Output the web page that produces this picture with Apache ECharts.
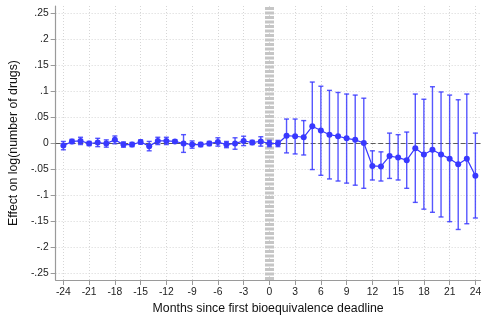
<!DOCTYPE html>
<html><head><meta charset="utf-8">
<script src="https://cdn.jsdelivr.net/npm/echarts@6/dist/echarts.min.js"></script>
<style>html,body{margin:0;padding:0;background:#fff}#c{width:484px;height:320px}</style>
</head><body><div id="c"></div>
<script>
const months = [-24,-23,-22,-21,-20,-19,-18,-17,-16,-15,-14,-13,-12,-11,-10,-9,-8,-7,-6,-5,-4,-3,-2,-1,0,1,2,3,4,5,6,7,8,9,10,11,12,13,14,15,16,17,18,19,20,21,22,23,24];
const effect = [-0.005,0.003,0.004,-0.001,0.001,-0.001,0.006,-0.003,-0.003,0.002,-0.006,0.004,0.004,0.003,-0.001,-0.003,-0.003,-0.001,0.002,-0.003,-0.001,0.004,0.001,0.003,-0.001,-0.001,0.014,0.013,0.011,0.032,0.024,0.016,0.013,0.009,0.006,0.000,-0.044,-0.045,-0.025,-0.028,-0.033,-0.010,-0.022,-0.013,-0.022,-0.030,-0.041,-0.030,-0.063];
const ciLow = [-0.013,-0.001,-0.003,-0.005,-0.007,-0.008,-0.0015,-0.008,-0.007,-0.002,-0.015,-0.003,-0.003,0.000,-0.018,-0.010,-0.007,-0.005,-0.006,-0.009,-0.012,-0.005,-0.003,-0.006,-0.007,-0.007,-0.019,-0.021,-0.023,-0.051,-0.062,-0.069,-0.073,-0.077,-0.081,-0.087,-0.071,-0.073,-0.068,-0.071,-0.087,-0.114,-0.127,-0.133,-0.142,-0.151,-0.166,-0.155,-0.144];
const ciHigh = [0.003,0.007,0.011,0.003,0.009,0.006,0.0135,0.002,0.001,0.006,0.003,0.011,0.011,0.006,0.016,0.004,0.001,0.003,0.010,0.003,0.010,0.013,0.005,0.012,0.005,0.005,0.046,0.046,0.043,0.117,0.109,0.101,0.097,0.094,0.092,0.086,-0.015,-0.017,0.019,0.016,0.021,0.094,0.084,0.108,0.098,0.092,0.083,0.094,0.019];
const xTicks = [-24,-21,-18,-15,-12,-9,-6,-3,0,3,6,9,12,15,18,21,24];
const yTicks = [-0.25,-0.2,-0.15,-0.1,-0.05,0,0.05,0.1,0.15,0.2,0.25];
const xTitle = 'Months since first bioequivalence deadline';
const yTitle = 'Effect on log(number of drugs)';

const blue = '#3838ff';
const font = 'Liberation Sans, Arial, sans-serif';
function yFmt(v){
  if (Math.abs(v) < 1e-9) return '0';
  let s = v.toFixed(2).replace(/0+$/,'');
  return s.replace('0.', '.');
}
const lineData = months.map((m,i)=>[m, effect[i]]);
const ciData = months.map((m,i)=>[m, ciLow[i], ciHigh[i]]);

const chart = echarts.init(document.getElementById('c'), null, {renderer:'canvas'});
chart.setOption({
  animation:false,
  backgroundColor:'#fff',
  grid:{left:46.7, right:0, top:6, bottom:40, containLabel:false},
  xAxis:{
    type:'value', min:-24.9, max:24.6,
    name:xTitle, nameLocation:'middle', nameGap:23,
    nameTextStyle:{fontFamily:font, fontSize:12.3, color:'#111'},
    axisLine:{show:true, onZero:false, lineStyle:{color:'#9a9a9a', width:1.2}},
    axisTick:{show:true, customValues:xTicks, length:5, inside:false, lineStyle:{color:'#9a9a9a'}},
    axisLabel:{customValues:xTicks, margin:7, fontFamily:font, fontSize:10.3, color:'#222'},
    splitLine:{show:true, lineStyle:{color:'#d6d6d6', type:[1,2], width:1}}
  },
  yAxis:{
    type:'value', min:-0.263, max:0.263,
    name:yTitle, nameLocation:'middle', nameGap:28, nameRotate:90,
    nameTextStyle:{fontFamily:font, fontSize:12.3, color:'#111'},
    axisLine:{show:true, onZero:false, lineStyle:{color:'#9a9a9a', width:1.2}},
    axisTick:{show:true, customValues:yTicks, length:5, lineStyle:{color:'#9a9a9a'}},
    axisLabel:{customValues:yTicks, margin:7, fontFamily:font, fontSize:10.3, color:'#222', formatter:yFmt},
    splitLine:{show:true, lineStyle:{color:'#d6d6d6', type:[1,2], width:1}}
  },
  series:[
    {
      type:'line', data:[], silent:true,
      markLine:{symbol:['none','none'], silent:true, label:{show:false}, z:1,
        data:[
          {xAxis:0, lineStyle:{color:'#c6c6c6', width:9, type:[3,1.5]}},
          {yAxis:0, lineStyle:{color:'#5a5a5a', width:1, type:[5,2.5]}}
        ]}
    },
    {
      type:'custom', data:ciData, z:3, silent:true,
      renderItem:function(params, api){
        const x = api.value(0);
        const a = api.coord([x, api.value(1)]);
        const b = api.coord([x, api.value(2)]);
        const w = 2.5;
        const st = {stroke:blue, lineWidth:1.4, opacity:0.85};
        return {type:'group', children:[
          {type:'line', shape:{x1:a[0],y1:a[1],x2:b[0],y2:b[1]}, style:st},
          {type:'line', shape:{x1:a[0]-w,y1:a[1],x2:a[0]+w,y2:a[1]}, style:st},
          {type:'line', shape:{x1:b[0]-w,y1:b[1],x2:b[0]+w,y2:b[1]}, style:st}
        ]};
      }
    },
    {
      type:'line', data:lineData, z:4, silent:true,
      symbol:'circle', symbolSize:6, showSymbol:true,
      lineStyle:{color:blue, width:1.2},
      itemStyle:{color:blue}
    }
  ]
});
</script></body></html>
